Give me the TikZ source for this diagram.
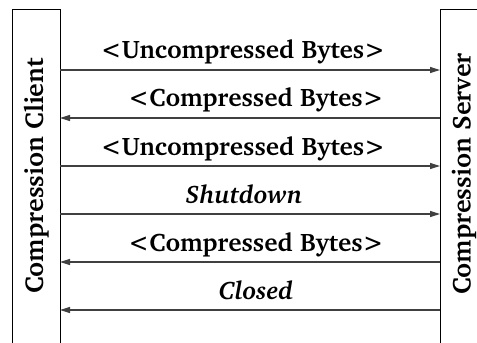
\documentclass[tikz,border=0pt]{standalone}
\usepackage[T1]{fontenc}
\usepackage{charter}
\usetikzlibrary{arrows.meta}
\begin{document}
\begin{tikzpicture}[x=0.75pt,y=-0.75pt,
  lane/.style={draw=black,line width=0.8pt,minimum width=36pt,minimum height=259pt,inner sep=0pt,anchor=north west},
  lanelabel/.style={rotate=90,font=\fontsize{19.5}{23}\selectfont\bfseries},
  msg/.style={draw=black!75,line width=0.9pt,-{Triangle[length=7.5pt,width=4.5pt]}},
  msglabel/.style={font=\fontsize{19}{23}\selectfont\bfseries,anchor=base,inner sep=0pt}]
\useasboundingbox (0,0) rectangle (477,342);
\clip (0,0) rectangle (477,342);
\node[lane] (client) at (12,9) {};
\node[lane] (server) at (440,9) {};
\node[lanelabel] (clientlabel) at (36,176) {Compression Client};
\node[lanelabel] (serverlabel) at (464,174) {Compression Server};
\foreach \i/\y in {1/70,2/118,3/166,4/214,5/262,6/310}{
  \coordinate (cl\i) at (60,\y);
  \coordinate (sv\i) at (440,\y);
}
\draw[msg] (cl1) -- (sv1);
\draw[msg] (sv2) -- (cl2);
\draw[msg] (cl3) -- (sv3);
\draw[msg] (cl4) -- (sv4);
\draw[msg] (sv5) -- (cl5);
\draw[msg] (sv6) -- (cl6);
\node[msglabel] (m1) at (243,59) {<Uncompressed Bytes>};
\node[msglabel] (m2) at (256,107) {<Compressed Bytes>};
\node[msglabel] (m3) at (243,155) {<Uncompressed Bytes>};
\node[msglabel] (m4) at (244,203) {\itshape Shutdown};
\node[msglabel] (m5) at (256,251) {<Compressed Bytes>};
\node[msglabel] (m6) at (256,299) {\itshape Closed};
\end{tikzpicture}
\end{document}
